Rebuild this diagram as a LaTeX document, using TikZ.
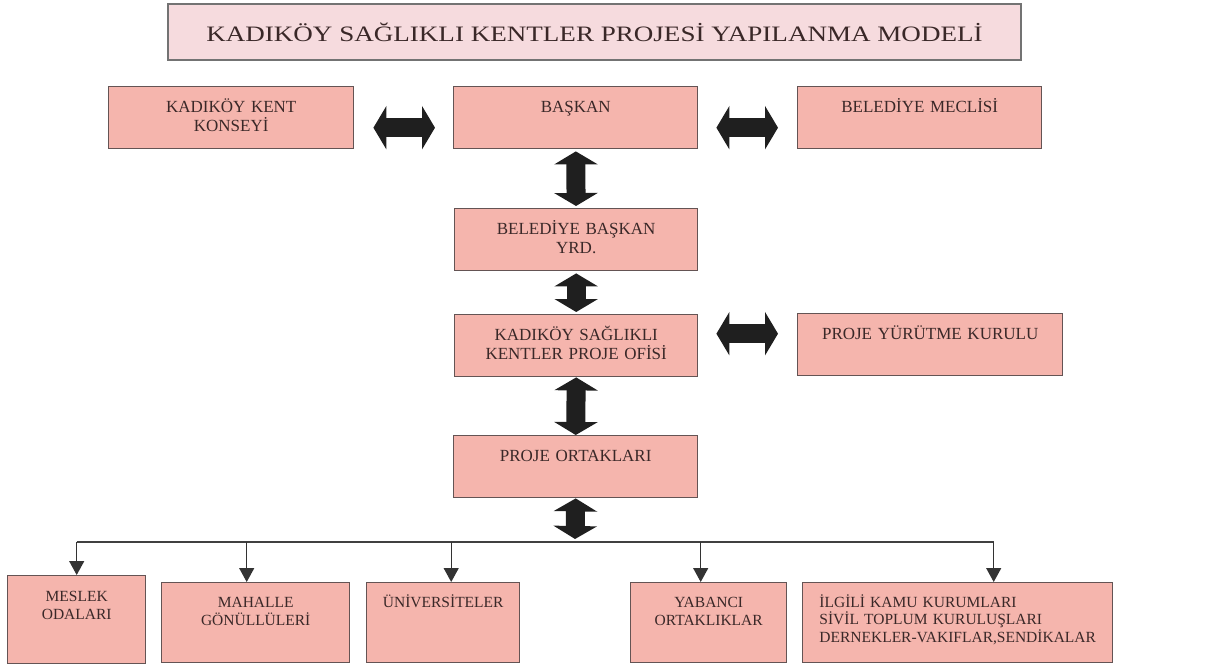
\documentclass[tikz,border=0pt]{standalone}
\usepackage{fontspec}
\setmainfont{Liberation Serif}
\newfontfamily\titlefont[FakeStretch=1.23]{Liberation Serif}
\usetikzlibrary{arrows.meta}
\definecolor{boxfill}{RGB}{245,181,173}
\definecolor{titlefill}{RGB}{246,219,222}
\definecolor{boxline}{RGB}{100,84,84}
\definecolor{txtcol}{RGB}{58,40,40}

\begin{document}
\begin{tikzpicture}[x=1pt,y=1pt,>={Triangle[length=13pt,width=43pt]},semithick]
  \tikzstyle{box}=[draw=boxline,line width=1.4pt,fill=boxfill,anchor=north west,inner sep=0pt,minimum height=62pt]
  \tikzstyle{txt}=[anchor=base,yshift=-26pt,text width=320pt,align=center,text=txtcol,font=\fontsize{17}{19}\selectfont]
  \tikzstyle{small}=[yshift=1pt,font=\fontsize{15.5}{18}\selectfont]
  \tikzstyle{fat}=[<->,line width=19pt,draw=black!88]
  \tikzstyle{branch}=[-{Triangle[length=14pt,width=15pt]},line width=1.3pt,draw=black!80]
  \useasboundingbox (0,0) rectangle (1213,-667);

  \node[draw=black!55,line width=2.6pt,fill=titlefill,minimum width=853pt,minimum height=56pt,
        text=txtcol,font=\fontsize{22}{24}\titlefont] (title) at (594.5,-32)
        {KADIKÖY SAĞLIKLI KENTLER PROJESİ YAPILANMA MODELİ};

  % top row
  \node[box,minimum width=245pt,label={[txt]north:{KADIKÖY KENT\\KONSEYİ}}] (konsey) at (108,-86) {};
  \node[box,minimum width=244pt,label={[txt]north:BAŞKAN}]                  (baskan) at (453,-86) {};
  \node[box,minimum width=244pt,label={[txt]north:BELEDİYE MECLİSİ}]        (meclis) at (797,-86) {};

  % middle column
  \node[box,minimum width=243pt,label={[txt]north:{BELEDİYE BAŞKAN\\YRD.}}]                (yrd)   at (454,-208) {};
  \node[box,minimum width=243pt,label={[txt]north:{KADIKÖY SAĞLIKLI\\KENTLER PROJE OFİSİ}}] (ofis)  at (454,-314) {};
  \node[box,minimum width=265pt,label={[txt]north:PROJE YÜRÜTME KURULU}]                   (kurul) at (797,-313) {};
  \node[box,minimum width=244pt,label={[txt]north:PROJE ORTAKLARI}]                        (ortak) at (453,-435) {};

  % bottom row
  \node[box,minimum width=138pt,minimum height=88pt,label={[txt,small,yshift=-1pt]north:{MESLEK\\ODALARI}}] (meslek)  at (7,-575) {};
  \node[box,minimum width=188pt,minimum height=80pt,label={[txt,small]north:{MAHALLE\\GÖNÜLLÜLERİ}}]         (mahalle) at (161,-582) {};
  \node[box,minimum width=153pt,minimum height=80pt,label={[txt,small]north:ÜNİVERSİTELER}]                  (univ)    at (366,-582) {};
  \node[box,minimum width=156pt,minimum height=80pt,label={[txt,small]north:{YABANCI\\ORTAKLIKLAR}}]         (yabanci) at (630,-582) {};
  \node[box,minimum width=310pt,minimum height=80pt,label={[txt,small,font=\fontsize{15.5}{17}\selectfont]north:{\begin{tabular}[t]{@{}l@{}}İLGİLİ KAMU KURUMLARI\\SİVİL TOPLUM KURULUŞLARI\\DERNEKLER-VAKIFLAR,SENDİKALAR\end{tabular}}}] (ilgili) at (802,-582) {};

  \coordinate (bus) at (575,-542);

  % thick two-way arrows
  \draw[fat,shorten <=19pt,shorten >=18pt] ([yshift=-10pt]konsey.east) -- ([yshift=-10pt]baskan.west);
  \draw[fat,shorten <=18pt,shorten >=19pt] ([yshift=-10pt]baskan.east) -- ([yshift=-10pt]meclis.west);
  \draw[fat,shorten <=18pt,shorten >=19pt] ([yshift=12pt]ofis.east) -- ([yshift=12pt]ofis.east -| kurul.west);
  \draw[fat,shorten <=2pt,shorten >=2pt] (baskan) -- (yrd);
  \draw[fat,shorten <=2pt,shorten >=2pt] (yrd) -- (ofis);
  \draw[fat] (ofis.south) -- (ortak.north);
  \draw[fat,shorten >=3pt] (ortak.south) -- (bus);

  % distribution line
  \draw[line width=1.8pt,draw=black!75] (bus -| meslek.north) -- ([xshift=36pt]ilgili.north |- bus);
  \draw[branch] (bus -| meslek.north) -- (meslek.north);
  \draw[branch] ([xshift=-9pt]mahalle.north |- bus) -- ([xshift=-9pt]mahalle.north);
  \draw[branch] ([xshift=8pt]univ.north |- bus) -- ([xshift=8pt]univ.north);
  \draw[branch] ([xshift=-8pt]yabanci.north |- bus) -- ([xshift=-8pt]yabanci.north);
  \draw[branch] ([xshift=36pt]ilgili.north |- bus) -- ([xshift=36pt]ilgili.north);
\end{tikzpicture}
\end{document}
